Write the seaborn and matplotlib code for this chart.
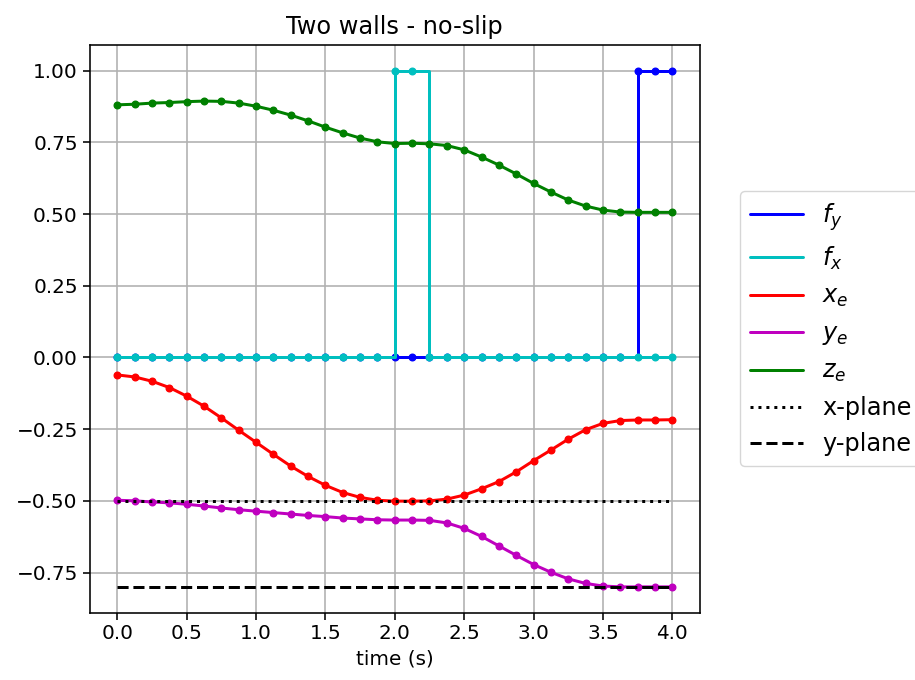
import numpy as np
import pandas as pd
import seaborn as sns
import matplotlib
matplotlib.use("Agg")
import matplotlib.pyplot as plt

# time axis (step 0.125 s)
time = [0.0, 0.125, 0.25, 0.375, 0.5, 0.625, 0.75, 0.875, 1.0, 1.125, 1.25, 1.375,
        1.5, 1.625, 1.75, 1.875, 2.0, 2.125, 2.25, 2.375, 2.5, 2.625, 2.75, 2.875,
        3.0, 3.125, 3.25, 3.375, 3.5, 3.625, 3.75, 3.875, 4.0]

f_y = [0] * 30 + [1, 1, 1]
f_x = [0] * 16 + [1, 1] + [0] * 15

x_e = [-0.061, -0.068, -0.083, -0.105, -0.135, -0.170, -0.211, -0.254, -0.296,
       -0.338, -0.379, -0.415, -0.446, -0.471, -0.488, -0.498, -0.501, -0.501,
       -0.500, -0.494, -0.480, -0.458, -0.433, -0.399, -0.360, -0.323, -0.285,
       -0.252, -0.230, -0.220, -0.218, -0.218, -0.217]
y_e = [-0.498, -0.500, -0.504, -0.507, -0.512, -0.518, -0.525, -0.531, -0.536,
       -0.541, -0.546, -0.551, -0.555, -0.560, -0.563, -0.566, -0.567, -0.567,
       -0.568, -0.577, -0.596, -0.624, -0.657, -0.690, -0.722, -0.749, -0.772,
       -0.788, -0.797, -0.800, -0.800, -0.800, -0.800]
z_e = [0.881, 0.883, 0.887, 0.889, 0.892, 0.894, 0.893, 0.887, 0.876, 0.862,
       0.845, 0.825, 0.803, 0.783, 0.765, 0.752, 0.746, 0.747, 0.745, 0.739,
       0.724, 0.699, 0.671, 0.640, 0.607, 0.577, 0.549, 0.528, 0.514, 0.507,
       0.506, 0.506, 0.506]

x_plane = -0.5
y_plane = -0.8

df = pd.DataFrame({"time": time, "f_y": f_y, "f_x": f_x,
                   "x_e": x_e, "y_e": y_e, "z_e": z_e})

sns.set_style("ticks")
plt.rcParams["font.family"] = ["DejaVu Sans"]
plt.rcParams["mathtext.fontset"] = "dejavusans"
for k in ["text.color", "axes.labelcolor", "xtick.color", "ytick.color"]:
    plt.rcParams[k] = "black"

fig = plt.figure(figsize=(9.15, 6.8), dpi=100)
ax = fig.add_axes([0.098, 0.099, 0.667, 0.835])

series = [("f_y", "b", "$f_y$", "steps-post"),
          ("f_x", "c", "$f_x$", "steps-post"),
          ("x_e", "r", "$x_e$", "default"),
          ("y_e", "m", "$y_e$", "default"),
          ("z_e", "g", "$z_e$", "default")]

for col, c, lab, ds in series:
    sns.lineplot(data=df, x="time", y=col, ax=ax, color=c, label=lab,
                 drawstyle=ds, marker=".", markersize=9.5, markeredgecolor=c,
                 markeredgewidth=1.0, linewidth=2.16)

plane_df = pd.DataFrame({"time": [time[0], time[-1]],
                         "x": [x_plane, x_plane], "y": [y_plane, y_plane]})
sns.lineplot(data=plane_df, x="time", y="x", ax=ax, color="k", linestyle=":",
             linewidth=2.16, label="x-plane")
sns.lineplot(data=plane_df, x="time", y="y", ax=ax, color="k", linestyle="--",
             linewidth=2.16, label="y-plane")

ax.set_xlim(-0.2, 4.2)
ax.set_ylim(-0.89, 1.09)
ax.set_xticks(np.arange(0, 4.01, 0.5))
ax.set_yticks([-0.75, -0.5, -0.25, 0.0, 0.25, 0.5, 0.75, 1.0])
ax.set_yticklabels(["\u22120.75", "\u22120.50", "\u22120.25", "0.00",
                    "0.25", "0.50", "0.75", "1.00"])
ax.grid(True, color="#b0b0b0", linewidth=1.15)
ax.set_axisbelow(True)
ax.tick_params(labelsize=14.4, width=1.15, length=5, color="k")
for sp in ax.spines.values():
    sp.set_color("k")
    sp.set_linewidth(1.15)

ax.set_xlabel("time (s)", fontsize=14.4)
ax.set_ylabel("")
ax.set_title("Two walls - no-slip", fontsize=17.3, pad=8)

leg = ax.legend(loc="center left", bbox_to_anchor=(1.066, 0.5), fontsize=17.3,
                frameon=True, framealpha=0.8, edgecolor="#cccccc",
                borderaxespad=0.0, handlelength=2.2)
for ln in leg.get_lines():
    ln.set_marker("")
    ln.set_linewidth(2.16)

fig.savefig("out.png", dpi=100)
